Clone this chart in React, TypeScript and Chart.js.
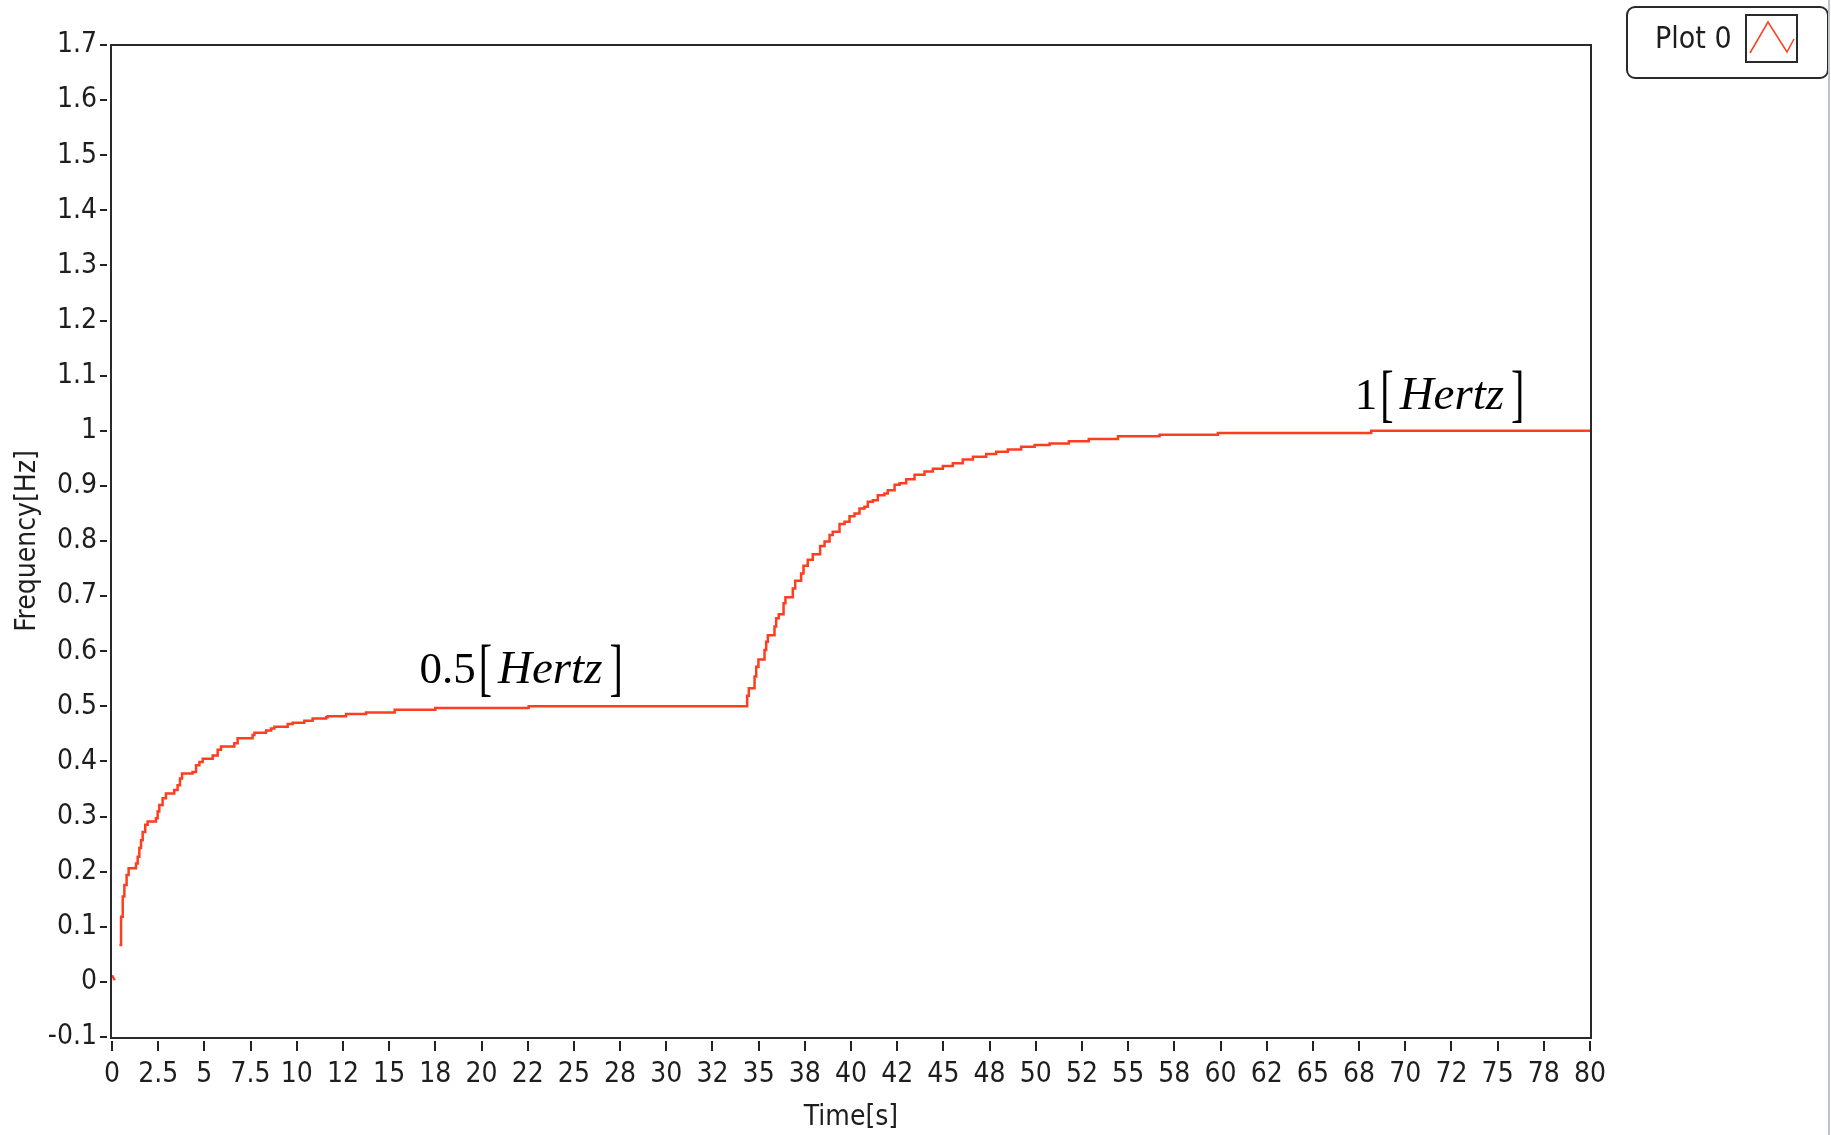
import React, { useEffect, useRef } from 'react';
import { Chart, registerables } from 'chart.js';

Chart.register(...registerables);

const SERIES_LABEL = 'Plot 0';
const LINE_COLOR = '#ff3d1f';
const TEXT_COLOR = '#1e1e1e';
const SANS = "'Liberation Sans Narrow', 'DejaVu Sans Condensed', 'Liberation Sans', sans-serif";
const SERIF = "'Liberation Serif', 'Times New Roman', serif";

// initial short transient (separate segment)
const startTimes = [0, 0.15];
const startFreqs = [0.012, 0.003];

// main stepped response: value holds from time[i] until time[i+1]
const times = [
  0.40, 0.49, 0.58, 0.67, 0.79, 0.90, 1.30, 1.39, 1.48, 1.57,
  1.66, 1.80, 1.93, 2.38, 2.47, 2.56, 2.74, 2.92, 3.37, 3.55,
  3.68, 3.79, 4.36, 4.55, 4.73, 4.91, 5.45, 5.72, 5.90, 6.62,
  6.80, 7.61, 7.71, 8.34, 8.61, 8.79, 9.51, 9.78, 10.41, 10.86,
  11.59, 11.67, 12.67, 13.75, 15.30, 17.50, 22.55, 34.38, 34.47, 34.78,
  34.87, 34.99, 35.32, 35.41, 35.50, 35.86, 35.95, 36.09, 36.35, 36.45,
  36.85, 36.98, 37.30, 37.43, 37.66, 37.93, 38.33, 38.57, 38.84, 39.01,
  39.38, 39.65, 39.92, 40.19, 40.46, 40.73, 40.91, 41.18, 41.45, 41.81,
  41.99, 42.36, 42.63, 42.99, 43.44, 43.98, 44.43, 44.97, 45.51, 46.05,
  46.60, 47.32, 47.86, 48.49, 49.21, 49.94, 50.75, 51.79, 52.87, 54.45,
  56.70, 59.86, 68.16, 80.0,
];
const freqs = [
  0.067, 0.118, 0.155, 0.176, 0.194, 0.206, 0.215, 0.227, 0.243, 0.257,
  0.272, 0.285, 0.291, 0.297, 0.309, 0.321, 0.333, 0.342, 0.348, 0.357,
  0.369, 0.378, 0.381, 0.393, 0.399, 0.405, 0.411, 0.421, 0.427, 0.433,
  0.442, 0.448, 0.452, 0.456, 0.460, 0.463, 0.468, 0.470, 0.474, 0.478,
  0.480, 0.482, 0.486, 0.489, 0.494, 0.497, 0.500, 0.519, 0.533, 0.554,
  0.572, 0.585, 0.602, 0.617, 0.629, 0.645, 0.660, 0.667, 0.687, 0.698,
  0.714, 0.728, 0.741, 0.755, 0.766, 0.776, 0.791, 0.799, 0.811, 0.817,
  0.831, 0.835, 0.845, 0.850, 0.859, 0.862, 0.871, 0.874, 0.883, 0.886,
  0.892, 0.902, 0.905, 0.912, 0.920, 0.926, 0.931, 0.936, 0.941, 0.948,
  0.953, 0.958, 0.962, 0.966, 0.971, 0.974, 0.977, 0.981, 0.985, 0.990,
  0.993, 0.996, 1.000, 1.000,
];

const xTickValues = [
  0, 2.5, 5, 7.5, 10, 12.5, 15, 17.5, 20, 22.5, 25, 27.5, 30, 32.5, 35, 37.5,
  40, 42.5, 45, 47.5, 50, 52.5, 55, 57.5, 60, 62.5, 65, 67.5, 70, 72.5, 75, 77.5, 80,
];
const xTickLabels = [
  '0', '2.5', '5', '7.5', '10', '12', '15', '18', '20', '22', '25', '28', '30', '32', '35', '38',
  '40', '42', '45', '48', '50', '52', '55', '58', '60', '62', '65', '68', '70', '72', '75', '78', '80',
];
const yTickValues = [
  -0.1, 0, 0.1, 0.2, 0.3, 0.4, 0.5, 0.6, 0.7, 0.8, 0.9, 1.0, 1.1, 1.2, 1.3, 1.4, 1.5, 1.6, 1.7,
];
const yTickLabels = [
  '-0.1', '0', '0.1', '0.2', '0.3', '0.4', '0.5', '0.6', '0.7', '0.8', '0.9', '1', '1.1', '1.2',
  '1.3', '1.4', '1.5', '1.6', '1.7',
];

const annotationValues = ['0.5', '1'];
const annotationUnit = 'Hertz';
const annotationTimes = [16.64, 67.27];
const annotationFreqs = [0.542, 1.0395];

const decorPlugin = {
  id: 'decor',
  beforeDatasetsDraw(chart: any) {
    const { ctx, chartArea: a } = chart;
    ctx.save();
    ctx.strokeStyle = '#2a2a2a';
    ctx.lineWidth = 2;
    ctx.strokeRect(a.left - 1, a.top, a.right - a.left + 2, a.bottom - a.top + 1);
    ctx.restore();
  },
  afterDraw(chart: any) {
    const { ctx, chartArea: a } = chart;
    const xs = chart.scales.x;
    const ys = chart.scales.y;
    ctx.save();
    // tick marks (detached from the axis line)
    ctx.strokeStyle = '#222';
    ctx.lineWidth = 2;
    ctx.beginPath();
    xs.ticks.forEach((t: any) => {
      const px = Math.round(xs.getPixelForValue(t.value));
      ctx.moveTo(px, a.bottom + 4);
      ctx.lineTo(px, a.bottom + 14);
    });
    ys.ticks.forEach((t: any) => {
      const py = Math.round(ys.getPixelForValue(t.value));
      ctx.moveTo(a.left - 12, py);
      ctx.lineTo(a.left - 5, py);
    });
    ctx.stroke();

    // annotations
    ctx.fillStyle = '#000';
    ctx.textAlign = 'left';
    ctx.textBaseline = 'alphabetic';
    const drawBracket = (ch: string, x: number, base: number) => {
      ctx.save();
      ctx.font = `40px ${SERIF}`;
      const w = ctx.measureText(ch).width;
      ctx.translate(x, base + 5);
      ctx.scale(1, 1.6);
      ctx.fillText(ch, 0, 0);
      ctx.restore();
      return w;
    };
    annotationValues.forEach((val, i) => {
      let x = xs.getPixelForValue(annotationTimes[i]);
      const base = ys.getPixelForValue(annotationFreqs[i]);
      ctx.font = `45px ${SERIF}`;
      ctx.fillText(val, x, base);
      x += ctx.measureText(val).width + 3;
      x += drawBracket('[', x, base) + 6;
      ctx.font = `italic 47px ${SERIF}`;
      ctx.fillText(annotationUnit, x, base);
      x += ctx.measureText(annotationUnit).width + 7;
      drawBracket(']', x, base);
    });

    // legend box
    const ds = chart.data.datasets[0];
    ctx.strokeStyle = '#2a2a2a';
    ctx.lineWidth = 2;
    ctx.beginPath();
    ctx.roundRect(1627, 7, 201, 71, 8);
    ctx.stroke();
    ctx.fillStyle = TEXT_COLOR;
    ctx.font = `30px ${SANS}`;
    ctx.textBaseline = 'middle';
    ctx.fillText(ds.label, 1655, 40);
    ctx.strokeRect(1746, 15, 51, 47);
    ctx.strokeStyle = ds.borderColor;
    ctx.lineWidth = 1.5;
    ctx.beginPath();
    ctx.moveTo(1750, 53);
    ctx.lineTo(1768, 22);
    ctx.lineTo(1787, 52);
    ctx.lineTo(1794, 39);
    ctx.stroke();

    // window edge line
    ctx.fillStyle = '#bcc6ca';
    ctx.fillRect(1828, 0, 2, chart.height);
    ctx.restore();
  },
};

export default function App() {
  const canvasRef = useRef<HTMLCanvasElement | null>(null);

  useEffect(() => {
    document.body.style.margin = '0';
    document.body.style.overflow = 'hidden';
    const canvas = canvasRef.current;
    if (!canvas) return;
    const chart = new Chart(canvas, {
      type: 'line',
      data: {
        datasets: [
          {
            label: SERIES_LABEL,
            data: times.map((t, i) => ({ x: t, y: freqs[i] })),
            borderColor: LINE_COLOR,
            borderWidth: 2.5,
            pointRadius: 0,
            stepped: true,
            fill: false,
          },
          {
            label: SERIES_LABEL + ' start',
            data: startTimes.map((t, i) => ({ x: t, y: startFreqs[i] })),
            borderColor: LINE_COLOR,
            borderWidth: 2.5,
            pointRadius: 0,
            fill: false,
          },
        ],
      },
      options: {
        animation: false,
        responsive: false,
        maintainAspectRatio: false,
        layout: { padding: { top: 45, right: 241, bottom: 0, left: 0 } },
        plugins: { legend: { display: false }, tooltip: { enabled: false } },
        scales: {
          x: {
            type: 'linear',
            min: 0,
            max: 80,
            afterBuildTicks: (s: any) => {
              s.ticks = xTickValues.map((v) => ({ value: v }));
            },
            afterFit: (s: any) => {
              s.height = 98;
            },
            grid: { display: false, drawTicks: false },
            border: { display: false },
            ticks: {
              autoSkip: false,
              maxRotation: 0,
              minRotation: 0,
              padding: 21,
              color: TEXT_COLOR,
              font: { family: SANS, size: 28 },
              callback: (_v: any, i: number) => xTickLabels[i],
            },
            title: {
              display: true,
              text: 'Time[s]',
              color: TEXT_COLOR,
              font: { family: SANS, size: 28 },
              padding: { top: 0, bottom: 0 },
            },
          },
          y: {
            type: 'linear',
            min: -0.1,
            max: 1.7,
            afterBuildTicks: (s: any) => {
              s.ticks = yTickValues.map((v) => ({ value: v }));
            },
            afterFit: (s: any) => {
              s.width = 112;
            },
            grid: { display: false, drawTicks: false },
            border: { display: false },
            ticks: {
              autoSkip: false,
              padding: 15,
              color: TEXT_COLOR,
              font: { family: SANS, size: 28 },
              callback: (_v: any, i: number) => yTickLabels[i],
            },
            title: {
              display: true,
              text: 'Frequency[Hz]',
              color: TEXT_COLOR,
              font: { family: SANS, size: 28 },
              padding: { top: 11, bottom: 0 },
            },
          },
        },
      },
      plugins: [decorPlugin],
    } as any);
    return () => chart.destroy();
  }, []);

  return (
    <div style={{ width: 1831, height: 1135, background: '#fff' }}>
      <canvas ref={canvasRef} width={1831} height={1135} style={{ display: 'block' }} />
    </div>
  );
}
